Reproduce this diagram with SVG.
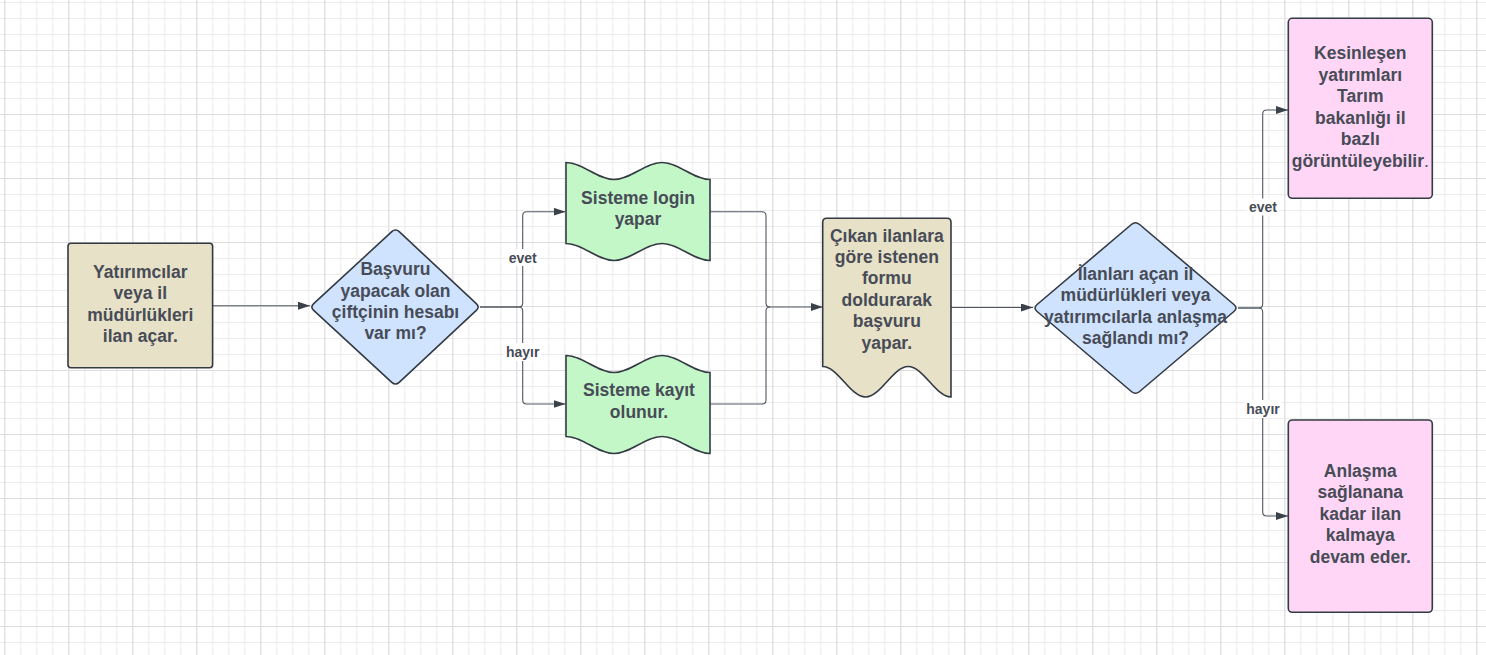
<svg xmlns="http://www.w3.org/2000/svg" width="1486" height="655" viewBox="0 0 1486 655">
  <defs>
    <pattern id="gridMinor" patternUnits="userSpaceOnUse" x="4.3" y="2" width="16" height="16">
      <path d="M0.5,0 V16 M0,0.5 H16" fill="none" stroke="#ececec" stroke-width="1"/>
    </pattern>
    <pattern id="gridMajor" patternUnits="userSpaceOnUse" x="4.3" y="50" width="64" height="64">
      <path d="M0.5,0 V64 M0,0.5 H64" fill="none" stroke="#dcdcdc" stroke-width="1"/>
    </pattern>
    <marker id="arrow" viewBox="0 0 12 8" refX="12" refY="4" markerWidth="12" markerHeight="8" markerUnits="userSpaceOnUse" orient="auto">
      <path d="M0,0 L12,4 L0,8 Z" fill="#3a414a"/>
    </marker>
    <path id="tape" d="M0,0 C17,0 31,17 48,17 C65,17 79,0 96,0 C113,0 127,17 144,17 L144,98 C127,98 113,81 96,81 C79,81 65,98 48,98 C31,98 17,81 0,81 Z"/>
  </defs>
  <style>
    .t { font-family: "Liberation Sans", Arial, sans-serif; font-size: 17.5px; font-weight: 700; fill: #474c57; text-anchor: middle; }
    .lbl { font-size: 14px; }
    .node { stroke: #333a43; stroke-width: 1.6; }
    .tan { fill: #e7e1c7; }
    .blue { fill: #cfe3ff; }
    .green { fill: #c3f7c8; }
    .pink { fill: #ffd6f6; }
    .conn { fill: none; stroke: #50565f; stroke-width: 1.1; }
    .lblbg { fill: #ffffff; }
  </style>

  <rect x="0" y="0" width="1486" height="655" fill="#ffffff"/>
  <rect x="0" y="0" width="1486" height="655" fill="url(#gridMinor)"/>
  <rect x="0" y="0" width="1486" height="655" fill="url(#gridMajor)"/>

  <g id="connectors">
    <path class="conn" d="M212.6,305.7 H310" marker-end="url(#arrow)"/>
    <path class="conn" d="M480,307 H518.7 Q522.7,307 522.7,303 V215.7 Q522.7,211.7 526.7,211.7 H565.5" marker-end="url(#arrow)"/>
    <path class="conn" d="M480,307 H518.7 Q522.7,307 522.7,311 V400 Q522.7,404 526.7,404 H565.5" marker-end="url(#arrow)"/>
    <path class="conn" d="M710,211.7 H762 Q766,211.7 766,215.7 V303 Q766,307 770,307 H822.7" marker-end="url(#arrow)"/>
    <path class="conn" d="M710,404 H762 Q766,404 766,400 V311 Q766,307 770,307"/>
    <path class="conn" d="M951,307.5 H1033" marker-end="url(#arrow)"/>
    <path class="conn" d="M1238,308 H1258.7 Q1262.7,308 1262.7,304 V114 Q1262.7,110 1266.7,110 H1288" marker-end="url(#arrow)"/>
    <path class="conn" d="M1238,308 H1258.7 Q1262.7,308 1262.7,312 V512 Q1262.7,516 1266.7,516 H1288" marker-end="url(#arrow)"/>
    <rect class="lblbg" x="506.7" y="249" width="32" height="17"/>
    <text class="t lbl" x="522.7" y="262.5">evet</text>
    <rect class="lblbg" x="503.7" y="343" width="38" height="18"/>
    <text class="t lbl" x="522.7" y="357.3">hayır</text>
    <rect class="lblbg" x="1247" y="198.5" width="32" height="17"/>
    <text class="t lbl" x="1263" y="212">evet</text>
    <rect class="lblbg" x="1244" y="400" width="38" height="18"/>
    <text class="t lbl" x="1263" y="414">hayır</text>
  </g>

  <g id="node-yatirimcilar">
    <rect class="node tan" x="68" y="243.3" width="144.6" height="124.4" rx="3"/>
    <text class="t" x="140.3" y="277.5">Yatırımcılar</text>
    <text class="t" x="140.3" y="299.1">veya il</text>
    <text class="t" x="140.3" y="320.7">müdürlükleri</text>
    <text class="t" x="140.3" y="342.3">ilan açar.</text>
  </g>

  <g id="node-basvuru-hesap">
    <path class="node blue" d="M313.7,303.6 L391.8,231.7 Q395.5,228.3 399.2,231.7 L476.3,303.6 Q480,307 476.3,310.4 L399.2,382.3 Q395.5,385.7 391.8,382.3 L313.7,310.4 Q310,307 313.7,303.6 Z"/>
    <text class="t" x="395.5" y="275.2">Başvuru</text>
    <text class="t" x="395.5" y="296.6">yapacak olan</text>
    <text class="t" x="395.5" y="318">çiftçinin hesabı</text>
    <text class="t" x="395.5" y="339.4">var mı?</text>
  </g>

  <g id="node-login">
    <use href="#tape" class="node green" x="566" y="162.5"/>
    <text class="t" x="638" y="203.5">Sisteme login</text>
    <text class="t" x="638" y="225">yapar</text>
  </g>

  <g id="node-kayit">
    <use href="#tape" class="node green" x="566" y="355.5"/>
    <text class="t" x="639" y="396">Sisteme kayıt</text>
    <text class="t" x="639" y="417.5">olunur.</text>
  </g>

  <g id="node-form">
    <path class="node tan" d="M822.7,222.3 Q822.7,218.3 826.7,218.3 L947,218.3 Q951,218.3 951,222.3 L951,397 C935.6,397 923.6,366.5 908.2,366.5 C892.8,366.5 880.9,397 865.5,397 C850.1,397 838.1,366.5 822.7,366.5 Z"/>
    <text class="t" x="886.8" y="241.5">Çıkan ilanlara</text>
    <text class="t" x="886.8" y="262.9">göre istenen</text>
    <text class="t" x="886.8" y="284.3">formu</text>
    <text class="t" x="886.8" y="305.7">doldurarak</text>
    <text class="t" x="886.8" y="327.1">başvuru</text>
    <text class="t" x="886.8" y="348.5">yapar.</text>
  </g>

  <g id="node-anlasma">
    <path class="node blue" d="M1037.1,304.5 L1131.4,224.5 Q1135.5,221 1139.6,224.5 L1233.9,304.5 Q1238,308 1233.9,311.5 L1139.6,391.5 Q1135.5,395 1131.4,391.5 L1037.1,311.5 Q1033,308 1037.1,304.5 Z"/>
    <text class="t" x="1135.5" y="280">İlanları açan il</text>
    <text class="t" x="1135.5" y="301.3">müdürlükleri veya</text>
    <text class="t" x="1135.5" y="322.6">yatırımcılarla anlaşma</text>
    <text class="t" x="1135.5" y="343.9">sağlandı mı?</text>
  </g>

  <g id="node-kesinlesen">
    <rect class="node pink" x="1288.3" y="18.3" width="144" height="180" rx="4"/>
    <text class="t" x="1360.3" y="59.3">Kesinleşen</text>
    <text class="t" x="1360.3" y="80.8">yatırımları</text>
    <text class="t" x="1360.3" y="102.3">Tarım</text>
    <text class="t" x="1360.3" y="123.8">bakanlığı il</text>
    <text class="t" x="1360.3" y="145.3">bazlı</text>
    <text class="t" x="1360.3" y="166.8">görüntüleyebilir<tspan font-weight="400">.</tspan></text>
  </g>

  <g id="node-devam">
    <rect class="node pink" x="1288.3" y="420" width="144" height="192.3" rx="4"/>
    <text class="t" x="1360.3" y="477">Anlaşma</text>
    <text class="t" x="1360.3" y="498.4">sağlanana</text>
    <text class="t" x="1360.3" y="519.8">kadar ilan</text>
    <text class="t" x="1360.3" y="541.2">kalmaya</text>
    <text class="t" x="1360.3" y="562.6">devam eder.</text>
  </g>
</svg>
